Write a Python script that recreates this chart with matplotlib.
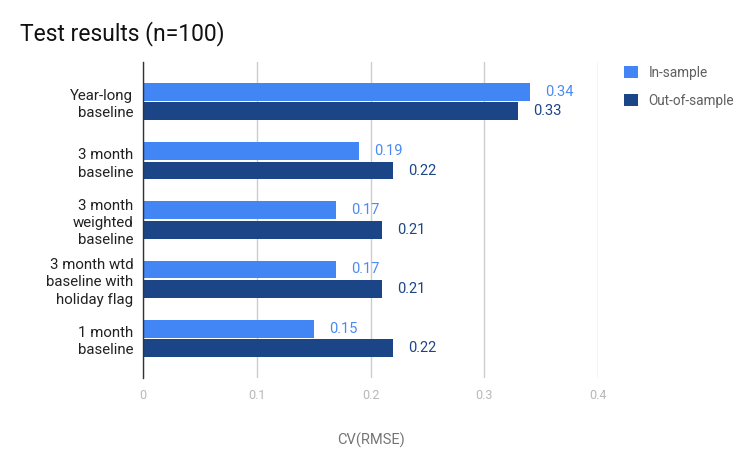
import numpy as np
import matplotlib.pyplot as plt

plt.rcParams['font.family'] = ['Roboto', 'DejaVu Sans']

# data
categories = ["Year-long\nbaseline", "3 month\nbaseline", "3 month\nweighted\nbaseline",
              "3 month wtd\nbaseline with\nholiday flag", "1 month\nbaseline"]
in_sample = [0.34, 0.19, 0.17, 0.17, 0.15]
out_sample = [0.33, 0.22, 0.21, 0.21, 0.22]
xticks = [0, 0.1, 0.2, 0.3, 0.4]

c_in = "#4285f4"
c_out = "#1c4587"

fig = plt.figure(figsize=(7.48, 4.55), dpi=100)
ax = fig.add_axes([0.1912, 0.1692, 0.6083, 0.6945])

y = np.arange(len(categories))
h = 0.3
b1 = ax.barh(y - 0.165, in_sample, height=h, color=c_in, label="In-sample", zorder=3)
b2 = ax.barh(y + 0.165, out_sample, height=h, color=c_out, label="Out-of-sample", zorder=3)

# value labels
for bars, vals, col in [(b1, in_sample, "#4a8af4"), (b2, out_sample, c_out)]:
    for bar, v in zip(bars, vals):
        ax.annotate(f"{v:.2f}", (v, bar.get_y() + bar.get_height() / 2),
                    xytext=(15, 0), textcoords="offset pixels",
                    va="center", ha="left", fontsize=10.5, color=col)

ax.set_xlim(0, 0.4)
ax.set_ylim(len(categories) - 1 + 0.667, -0.667)
ax.set_yticks(y)
ax.set_yticklabels(categories, fontsize=10.8, color="#222222", linespacing=1.3)
ax.set_xticks(xticks)
ax.set_xticklabels([f"{t:g}" for t in xticks], fontsize=9, color="#b7b7b7")
ax.tick_params(axis="both", length=0)
ax.tick_params(axis="x", pad=8)
ax.tick_params(axis="y", pad=7)

ax.grid(axis="x", color="#cccccc", linewidth=1, zorder=0)
for s in ["top", "right", "bottom"]:
    ax.spines[s].set_visible(False)
ax.spines["left"].set_color("#333333")
ax.spines["left"].set_linewidth(1)
ax.spines["left"].set_zorder(4)

ax.set_xlabel("CV(RMSE)", fontsize=10.5, color="#757575", labelpad=22)

fig.text(0.027, 0.91, "Test results (n=100)", fontsize=16.5, color="#111111", va="baseline")

fig.legend(handles=[b1, b2], loc="upper left", bbox_to_anchor=(0.818, 0.882),
           frameon=False, fontsize=9.8, labelcolor="#5f5f5f", handlelength=1.0,
           handleheight=1.0, labelspacing=1.0, handletextpad=0.8)

fig.savefig("out.png", dpi=100)
